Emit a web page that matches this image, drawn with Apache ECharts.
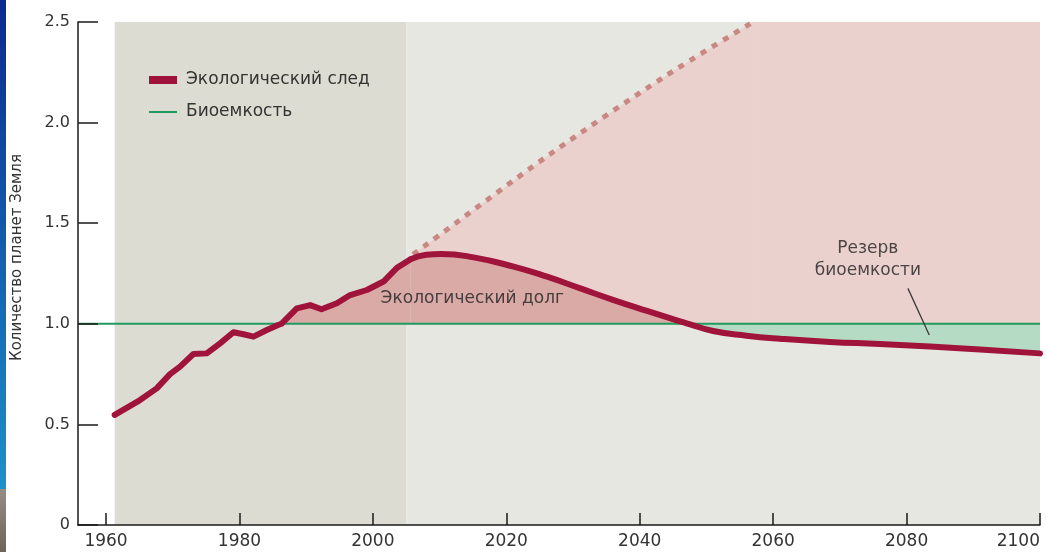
<!DOCTYPE html>
<html>
<head>
<meta charset="utf-8">
<script src="https://cdn.jsdelivr.net/npm/echarts@6/dist/echarts.min.js"></script>
<style>html,body{margin:0;padding:0;background:#fff;}#c{width:1046px;height:552px;}</style>
</head>
<body>
<div id="c"></div>
<script>
// ---- data ----
var xTicks = [1960, 1980, 2000, 2020, 2040, 2060, 2080, 2100];
var yTicks = [0, 0.5, 1.0, 1.5, 2.0, 2.5];
var xMin = 1955.8, xMax = 2100;

var histYears  = [1961.3, 1965.1, 1967.6, 1969.6, 1971.1, 1973.1, 1975.1, 1977.1, 1979.1, 1980.6, 1982.1, 1984.1, 1985.8, 1986.3, 1987.1, 1988.6, 1990.6, 1992.3, 1994.6, 1996.6, 1999.1, 2001.6, 2003.6, 2005.6];
var histValues = [0.547, 0.621, 0.679, 0.750, 0.787, 0.850, 0.853, 0.903, 0.958, 0.948, 0.936, 0.969, 0.994, 1.000, 1.027, 1.077, 1.093, 1.072, 1.102, 1.143, 1.168, 1.210, 1.278, 1.320];

var projYears  = [2005.6, 2008, 2010.3, 2015.1, 2021.1, 2026.1, 2031.1, 2036.1, 2041.1, 2045.1, 2047.3, 2051.0, 2056.0, 2061.0, 2068.5, 2076, 2083.5, 2091, 2100];
var projValues = [1.320, 1.343, 1.347, 1.330, 1.284, 1.234, 1.176, 1.118, 1.064, 1.022, 1.000, 0.964, 0.941, 0.926, 0.910, 0.900, 0.887, 0.872, 0.853];

var dashYears  = [2006, 2007.6, 2026.6, 2043.7, 2057.0];
var dashValues = [1.345, 1.383, 1.844, 2.228, 2.5];
var capYears = [2057.0, 2100], capValues = [2.5, 2.5];

var bioYears = [xMin, 2100], bioValues = [1, 1];
var debtStart = 1986.3, reserveStart = 2047.3;
var historyPanel = [1961.3, 2005], projectionPanel = [2005, 2100];

var leaderYears = [2080.2, 2083.4], leaderValues = [1.176, 0.944];
var notes = [
  [2014.9, 1.123, 'Экологический долг'],
  [2074.2, 1.320, 'Резерв\nбиоемкости']
];

var NAME_FP = 'Экологический след', NAME_BIO = 'Биоемкость';

function zip(xs, ys) { return xs.map(function (x, i) { return [x, ys[i]]; }); }
var hist = zip(histYears, histValues);
var proj = zip(projYears, projValues);
var dash = zip(dashYears, dashValues);
var cap = zip(capYears, capValues);
var debtHist = hist.filter(function (p) { return p[0] >= debtStart; });
var debtProj = proj.filter(function (p) { return p[0] <= reserveStart; });
var reserve = proj.filter(function (p) { return p[0] >= reserveStart; });

var FONT = 'DejaVu Sans';
var AXIS = '#1a1a1a';
var chart = echarts.init(document.getElementById('c'), null, { renderer: 'canvas' });
chart.setOption({
  animation: false,
  backgroundColor: '#ffffff',
  textStyle: { fontFamily: FONT, color: '#333' },
  graphic: [
    { type: 'rect', left: 0, top: 0, z: 100, shape: { width: 6, height: 489 },
      style: { fill: new echarts.graphic.LinearGradient(0, 0, 0, 1, [{ offset: 0, color: '#0a2a8e' }, { offset: 1, color: '#1c90cc' }]) } },
    { type: 'rect', left: 0, top: 489, z: 100, shape: { width: 6, height: 63 },
      style: { fill: new echarts.graphic.LinearGradient(0, 0, 0, 1, [{ offset: 0, color: '#958d86' }, { offset: 1, color: '#6e6457' }]) } }
  ],
  grid: { left: 78, right: 6, top: 22, bottom: 27, containLabel: false },
  legend: {
    orient: 'vertical', left: 144, top: 66, itemWidth: 28, itemHeight: 8, itemGap: 14,
    symbolKeepAspect: true,
    textStyle: { fontSize: 17, color: '#333', fontFamily: FONT, lineHeight: 18, padding: [0, 0, 0, 4] },
    selectedMode: false,
    data: [
      { name: NAME_FP, icon: 'rect', itemStyle: { color: '#a0143c', borderWidth: 0 } },
      { name: NAME_BIO, icon: 'path://M0,0H28V2H0Z', itemStyle: { color: '#229a5f', borderWidth: 0 } }
    ]
  },
  xAxis: {
    type: 'value', min: xMin, max: xMax, z: 10,
    splitLine: { show: false },
    axisLine: { show: true, lineStyle: { color: AXIS, width: 1.5 } },
    axisTick: { show: true, inside: true, length: 12, customValues: xTicks, lineStyle: { color: AXIS, width: 1.5 } },
    axisLabel: { customValues: xTicks, fontSize: 17, color: '#333', margin: 8, alignMaxLabel: 'right',
      formatter: function (v) { return String(Math.round(v)); } }
  },
  yAxis: {
    type: 'value', min: 0, max: 2.5, interval: 0.5, z: 10,
    name: 'Количество планет Земля', nameLocation: 'middle', nameGap: 53,
    nameTextStyle: { fontSize: 15, color: '#333', fontFamily: FONT, padding: [0, 0, 0, 32] },
    splitLine: { show: false },
    axisLine: { show: true, lineStyle: { color: AXIS, width: 1.5 } },
    axisTick: { show: true, inside: true, length: 20, lineStyle: { color: AXIS, width: 1.5 } },
    axisLabel: { fontSize: 16, color: '#333', margin: 8,
      formatter: function (v) { return v === 0 ? '0' : v.toFixed(1); } }
  },
  series: [
    { name: 'cap', type: 'line', data: cap, symbol: 'none', silent: true,
      lineStyle: { width: 0, opacity: 0 }, areaStyle: { color: '#ebd1cd', opacity: 1, origin: 1 }, z: 2,
      markArea: { silent: true, data: [
        [{ xAxis: historyPanel[0], itemStyle: { color: '#dcdcd2' } }, { xAxis: historyPanel[1] }],
        [{ xAxis: projectionPanel[0], itemStyle: { color: '#e6e7e1' } }, { xAxis: projectionPanel[1] }]
      ] } },
    { name: 'dashArea', type: 'line', data: dash, smooth: 0.3, symbol: 'none', silent: true,
      lineStyle: { width: 0, opacity: 0 }, areaStyle: { color: '#ebd1cd', opacity: 1, origin: 1 }, z: 2 },
    { name: 'debtHist', type: 'line', data: debtHist, smooth: false, symbol: 'none', silent: true,
      lineStyle: { width: 0, opacity: 0 }, areaStyle: { color: '#d9aaa6', opacity: 1, origin: 1 }, z: 2 },
    { name: 'debtProj', type: 'line', data: debtProj, smooth: 0.5, symbol: 'none', silent: true,
      lineStyle: { width: 0, opacity: 0 }, areaStyle: { color: '#d9aaa6', opacity: 1, origin: 1 }, z: 2 },
    { name: 'reserve', type: 'line', data: reserve, smooth: 0.5, symbol: 'none', silent: true,
      lineStyle: { width: 0, opacity: 0 }, areaStyle: { color: '#b5dbc4', opacity: 1, origin: 1 }, z: 2 },
    { name: NAME_BIO, type: 'line', data: zip(bioYears, bioValues), symbol: 'none', color: '#229a5f',
      lineStyle: { color: '#229a5f', width: 2 }, z: 3 },
    { name: 'dash', type: 'line', data: dash, smooth: 0.3, symbol: 'none', silent: true,
      lineStyle: { color: '#c98883', width: 5, type: [6, 7], cap: 'butt' }, z: 3 },
    { name: 'leader', type: 'line', data: zip(leaderYears, leaderValues), symbol: 'none', silent: true,
      lineStyle: { color: '#3a3a3a', width: 1.3 }, z: 3 },
    { name: NAME_FP, type: 'line', data: hist, smooth: false, symbol: 'none', color: '#a0143c',
      lineStyle: { color: '#a0143c', width: 6, cap: 'round', join: 'round' }, z: 4 },
    { name: NAME_FP, type: 'line', data: proj, smooth: 0.5, symbol: 'none', color: '#a0143c',
      lineStyle: { color: '#a0143c', width: 6, cap: 'round', join: 'round' }, z: 4 },
    { name: 'notes', type: 'scatter', data: notes, symbolSize: 1, silent: true,
      itemStyle: { color: 'transparent' }, z: 5,
      label: { show: true, position: 'inside', fontSize: 17, color: '#222', fontFamily: FONT,
        lineHeight: 22, align: 'center', verticalAlign: 'middle',
        formatter: function (p) { return p.data[2]; } } }
  ]
});
</script>
</body>
</html>
